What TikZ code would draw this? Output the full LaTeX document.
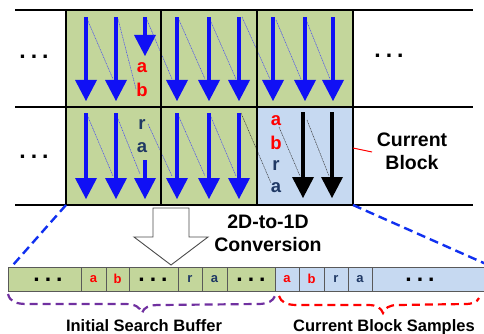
\documentclass[tikz,border=0pt]{standalone}
\usepackage{fontspec}
\setmainfont{Liberation Sans}
\definecolor{gfill}{HTML}{C3D69B}
\definecolor{bfill}{HTML}{C6D9F1}
\definecolor{arrblue}{HTML}{1010F5}
\definecolor{navy}{HTML}{1F3864}
\definecolor{redt}{HTML}{FF0000}
\definecolor{purp}{HTML}{7030A0}
\definecolor{dashblue}{HTML}{1030F0}
\newcommand{\vArrow}[4]{%
  \fill[#4] (#1-2.3,#2) rectangle (#1+2.3,#3-19);
  \fill[#4] (#1-11,#3-21) -- (#1+11,#3-21) -- (#1,#3) -- cycle;
}
\newcommand{\threedots}{.\hspace{5pt}.\hspace{5pt}.}
\tikzset{
  letter/.style={font=\bfseries\fontsize{18.5}{20}\selectfont, inner sep=0pt},
  sletter/.style={font=\bfseries\fontsize{13}{15}\selectfont, inner sep=0pt},
  dots/.style={font=\bfseries\fontsize{23}{24}\selectfont, inner sep=0pt, anchor=base},
  label/.style={font=\bfseries\fontsize{19.5}{23}\selectfont, align=center, inner sep=0pt},
  blabel/.style={font=\bfseries\fontsize{16.5}{19}\selectfont, inner sep=0pt, anchor=base},
  scan/.style={line width=0.5pt, dash pattern=on 1pt off 0.7pt},
  bigdash/.style={line width=2.4pt, dash pattern=on 9pt off 5pt},
  brace/.style={line width=2.2pt, dash pattern=on 8pt off 5pt},
}
\begin{document}
\begin{tikzpicture}[x=1pt,y=-1pt]
\useasboundingbox (0,0) rectangle (484,334);
% block fills
\fill[gfill] (66,10) rectangle (353,107);
\fill[gfill] (66,107) rectangle (257,205);
\fill[bfill] (257,107) rectangle (353,205);
% arrows row 1
\foreach \x in {86,116,177,209,239,273,305,333} {\vArrow{\x}{17}{101}{arrblue}}
\vArrow{145}{17}{56}{arrblue}
% arrows row 2
\foreach \x in {86,116,177,209,239} {\vArrow{\x}{113}{199}{arrblue}}
\vArrow{145}{160}{199}{arrblue}
\foreach \x in {303,332} {\vArrow{\x}{112}{198}{black}}
% scan lines row 1
\foreach \a/\b/\c/\d in {88/21/113/79, 118/19/136/89, 147/20/172/79, 179/20/205/79, 211/22/236/79, 242/17/270/79, 276/20/301/79, 307/22/330/79}
  {\draw[scan, arrblue!80] (\a,\b) -- (\c,\d);}
% scan lines row 2
\foreach \a/\b/\c/\d in {88/117/113/176, 118/119/140/174, 148/124/172/176, 179/117/205/176, 211/117/236/176}
  {\draw[scan, arrblue!80] (\a,\b) -- (\c,\d);}
\foreach \a/\b/\c/\d in {241/113/271/183, 279/127/300/176, 307/120/329/176}
  {\draw[scan, black!80] (\a,\b) -- (\c,\d);}
% borders
\foreach \x in {66,161,257,353} {\draw[line width=1.3pt] (\x,10) -- (\x,205);}
\foreach \y in {10,107,205} {\draw[line width=2.6pt] (15,\y) -- (473,\y);}
% letters in blocks
\node[letter, text=redt] (r1a) at (142,68) {a};
\node[letter, text=redt] (r1b) at (142,90) {b};
\node[letter, text=navy] (r2r) at (142,125) {r};
\node[letter, text=navy] (r2a) at (142,148) {a};
\node[letter, text=redt] (c1) at (276,121) {a};
\node[letter, text=redt] (c2) at (276,143) {b};
\node[letter, text=navy] (c3) at (276,166) {r};
\node[letter, text=navy] (c4) at (276,188) {a};
% dots
\node[dots] (d1) at (34,58.5) {\threedots};
\node[dots] (d2) at (34,158.5) {\threedots};
\node[dots] (d3) at (389,57.5) {\threedots};
% current block label
\node[label] (cb) at (412,151.5) {Current\\Block};
\coordinate (cbl) at (372,152);
\draw[redt, line width=1pt] (353,148) -- (cbl);
% zoom dashed lines
\draw[bigdash, dashblue] (66,205) -- (13,265);
\draw[bigdash, dashblue] (353,205) -- (486,264);
% big hollow arrow
\draw[black!70, line width=0.9pt, fill=white] (153,208) -- (189,208) -- (189,237) -- (208,237) -- (171,265) -- (134,237) -- (153,237) -- cycle;
\node[label] (conv) at (268,233.5) {2D-to-1D\\Conversion};
% strip
\fill[gfill] (8,267) rectangle (275,291);
\fill[bfill] (275,267) rectangle (486,291);
\draw[black!65, line width=0.8pt] (8,267) -- (486,267) (8,291) -- (486,291) (8,267) -- (8,291);
\foreach \x in {81,106,129,178,202,227,275,299,324,348,372} {\draw[black!65, line width=0.8pt] (\x,267) -- (\x,291);}
\node[dots] (s1) at (48,281.5) {\threedots};
\node[dots] (s2) at (153,281.5) {\threedots};
\node[dots] (s3) at (251,281.5) {\threedots};
\node[dots] (s4) at (420,281.5) {\threedots};
\node[sletter, text=redt] (sa1) at (93.5,279) {a};
\node[sletter, text=redt] (sb1) at (117.5,279) {b};
\node[sletter, text=navy] (sr1) at (190,279) {r};
\node[sletter, text=navy] (sa2) at (214.5,279) {a};
\node[sletter, text=redt] (sa3) at (287,279) {a};
\node[sletter, text=redt] (sb2) at (311.5,279) {b};
\node[sletter, text=navy] (sr2) at (336,279) {r};
\node[sletter, text=navy] (sa4) at (360,279) {a};
% braces
\draw[brace, purp] (8,294) .. controls (10,302) and (16,304) .. (28,304) -- (125,304) .. controls (135,304) and (140,307) .. (142,313) .. controls (144,307) and (149,305) .. (160,305) -- (258,304) .. controls (268,304) and (273,301) .. (275,296);
\draw[brace, redt] (279,296) .. controls (281,302) and (286,305) .. (297,305) -- (368,305) .. controls (377,305) and (381,308) .. (383,313) .. controls (385,308) and (389,305) .. (398,305) -- (465,304) .. controls (473,304) and (477,302) .. (479,298);
\node[blabel] (isb) at (144,331.5) {Initial Search Buffer};
\node[blabel] (cbs) at (384,331) {Current Block Samples};
\end{tikzpicture}
\end{document}
